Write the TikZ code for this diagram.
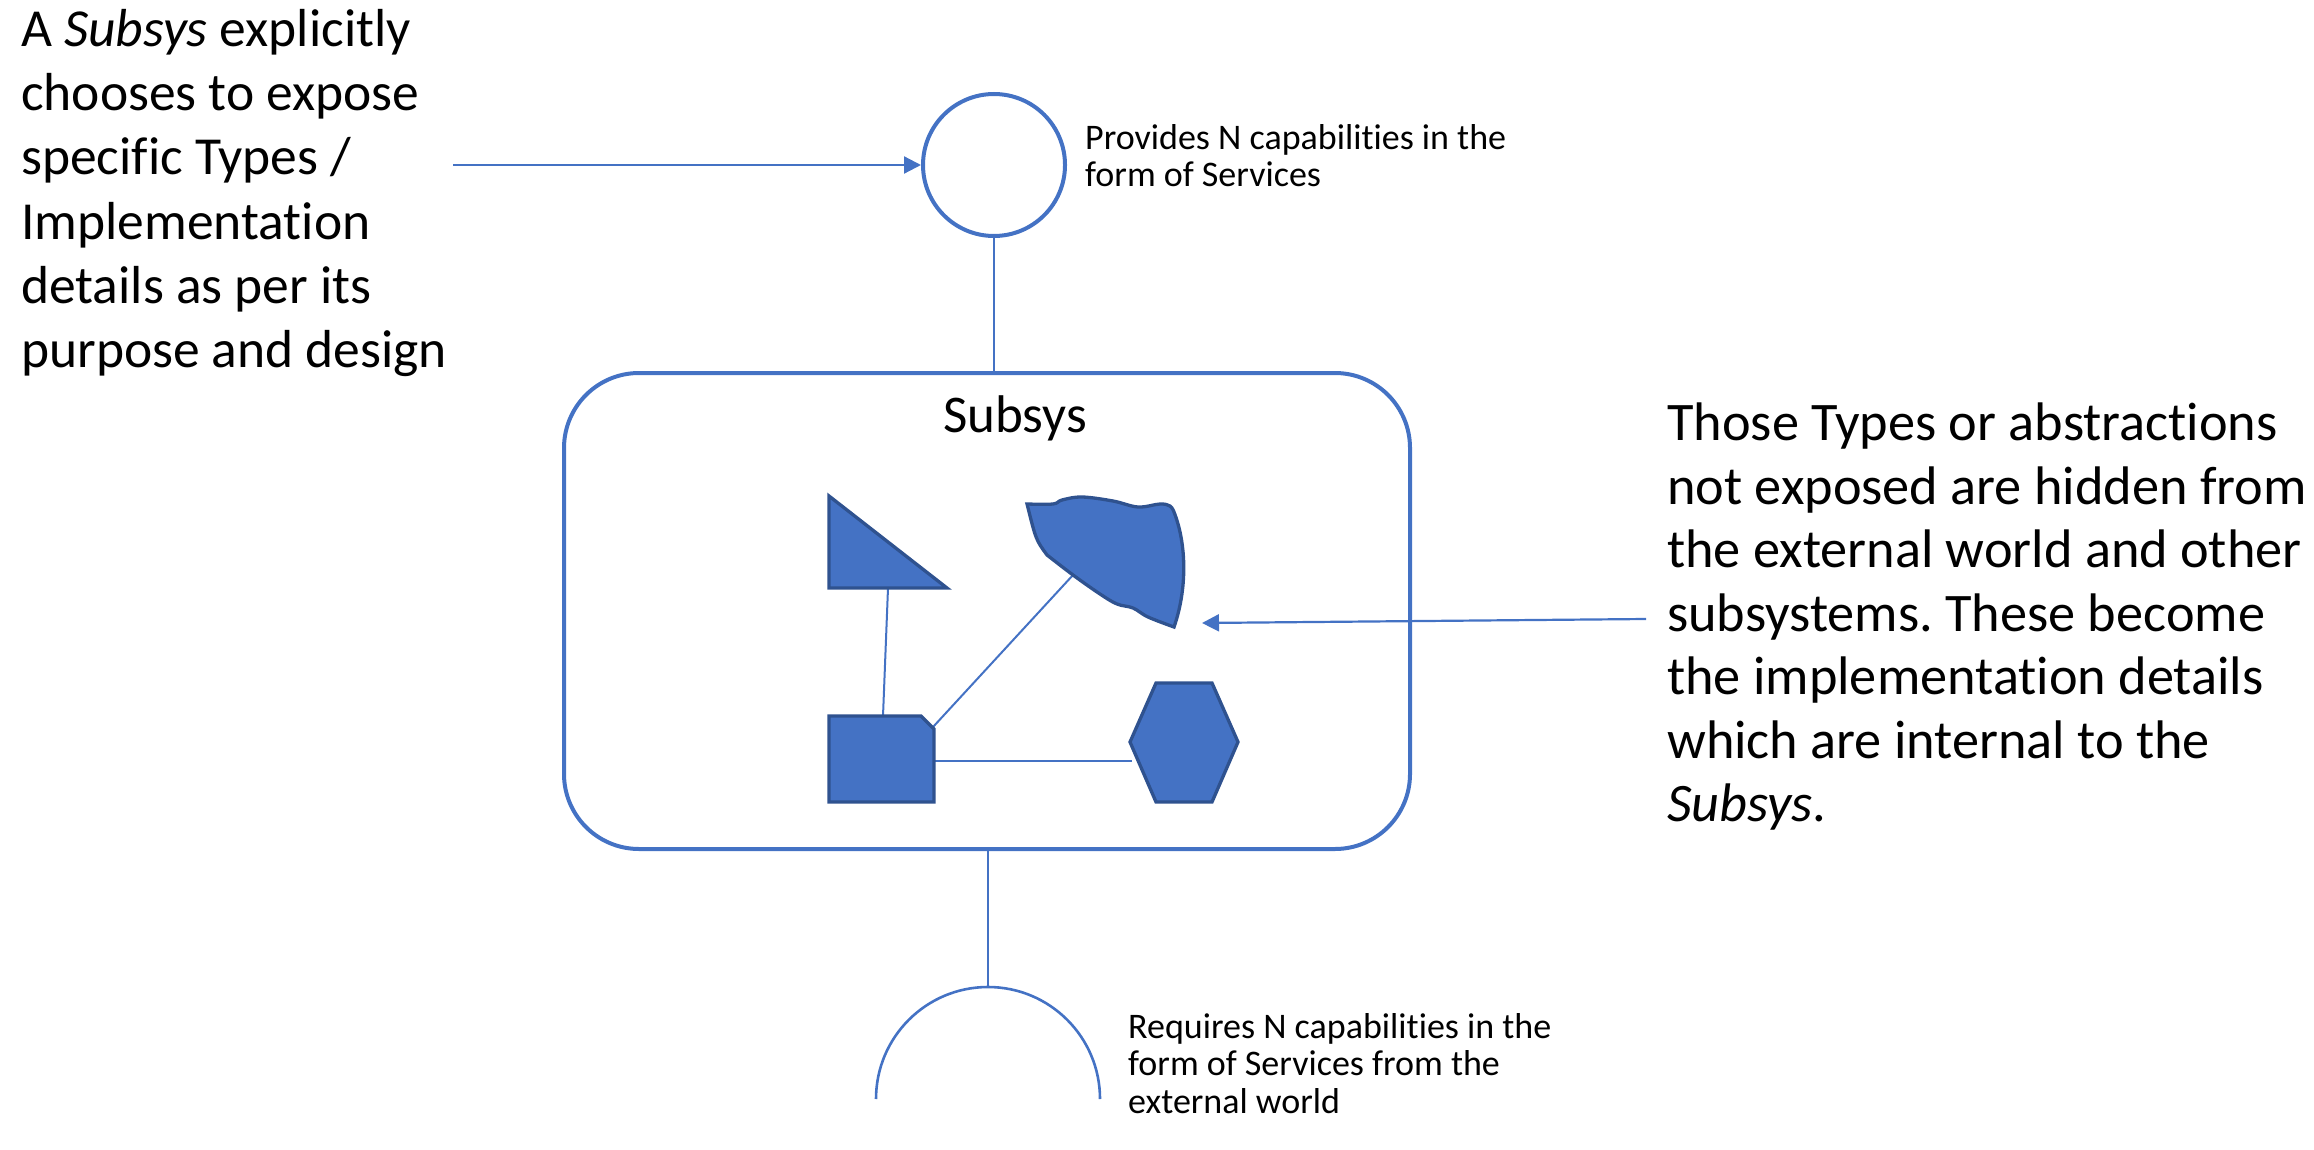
\documentclass[tikz,border=0pt]{standalone}
\usepackage{fontspec}
\setmainfont{Carlito}[Ligatures={NoCommon,NoContextual}]
\frenchspacing
\usetikzlibrary{arrows.meta}
\definecolor{msblue}{HTML}{4472C4}
\definecolor{msdark}{HTML}{2F528F}
\tikzset{
  link/.style={draw=msblue, line width=2pt},
  part/.style={fill=msblue, draw=msdark, line width=3.3pt},
  pointer/.style={link, line width=2.2pt, -{Triangle[length=17pt,width=17pt]}},
  bigtext/.style={inner sep=0pt, anchor=north west, align=left, font=\fontsize{53.5}{64.3}\selectfont},
  smalltext/.style={inner sep=0pt, anchor=north west, align=left, font=\fontsize{36}{37.5}\selectfont},
}
\begin{document}
\begin{tikzpicture}[x=1pt,y=-1pt]
  \useasboundingbox (0,0) rectangle (2314,1150);

  % provided interface and the subsystem box
  \node[circle, draw=msblue, line width=4pt, minimum size=142pt, inner sep=0pt] (provided) at (994,165) {};
  \node[draw=msblue, line width=4pt, rounded corners=75pt, minimum width=846pt, minimum height=476pt] (subsys) at (987,611) {};
  \node[anchor=base, inner sep=0pt, font=\fontsize{53}{64}\selectfont] (title) at (1015,432) {Subsys};

  \draw[link] (provided.south) -- (provided.south |- subsys.north);

  % required interface
  \coordinate (reqtop) at (988,987);
  \coordinate (reqleft) at (876,1099);
  \draw[link] (subsys.south -| reqtop) -- (reqtop);
  \draw[link, line width=2.6pt] (reqleft) arc[start angle=180, end angle=0, radius=112pt];

  % inner parts
  \coordinate (tribase) at (888,588);
  \coordinate (sqtop) at (883,716);
  \coordinate (sqcorner) at (933,727);
  \coordinate (sqright) at (934,761);
  \coordinate (blobfoot) at (1073,575);
  \coordinate (hexleft) at (1132,761);

  \draw[link] (tribase) -- (sqtop);
  \draw[link] (sqcorner) -- (blobfoot);
  \draw[link] (sqright) -- (hexleft);

  \filldraw[part] (829,496) -- (829,588) -- (947,588) -- cycle;
  \filldraw[part] (829,716) -- (921,716) -- (934,729) -- (934,802) -- (829,802) -- cycle;
  \filldraw[part] (1156,683) -- (1212,683) -- (1238,742) -- (1212,802) -- (1156,802) -- (1130,742) -- cycle;
  \filldraw[part] plot[smooth, tension=0.6] coordinates {(1027,504) (1053,504) (1062,500) (1082,497) (1113,501) (1138,507) (1160,504) (1170,506) (1174,512)}
    .. controls (1187,545) and (1187,590) .. (1174,627)
    -- plot[smooth, tension=0.6] coordinates {(1174,627) (1148,617) (1133,608) (1117,604) (1100,594) (1073,575) (1047,555)}
    .. controls (1036,540) .. (1027,504) -- cycle;

  % notes
  \node[bigtext] (exposenote) at (21,9) {A \textit{Subsys} explicitly\\chooses to expose\\specific Types /\\Implementation\\details as per its\\purpose and design};
  \node[bigtext, font=\fontsize{54.3}{63.5}\selectfont] (hiddennote) at (1667,403) {Those Types or abstractions\\not exposed are hidden from\\the external world and other\\subsystems. These become\\the implementation details\\which are internal to the\\\textit{Subsys}.};
  \node[smalltext] (providenote) at (1085,124) {Provides N capabilities in the\\form of Services};
  \node[smalltext] (requirenote) at (1128,1013) {Requires N capabilities in the\\form of Services from the\\external world};

  \coordinate (exposefrom) at (453,165);
  \coordinate (hiddenfrom) at (1646,619);
  \coordinate (hiddento) at (1202,623);
  \draw[pointer] (exposefrom) -- (provided.west);
  \draw[pointer] (hiddenfrom) -- (hiddento);
\end{tikzpicture}
\end{document}
